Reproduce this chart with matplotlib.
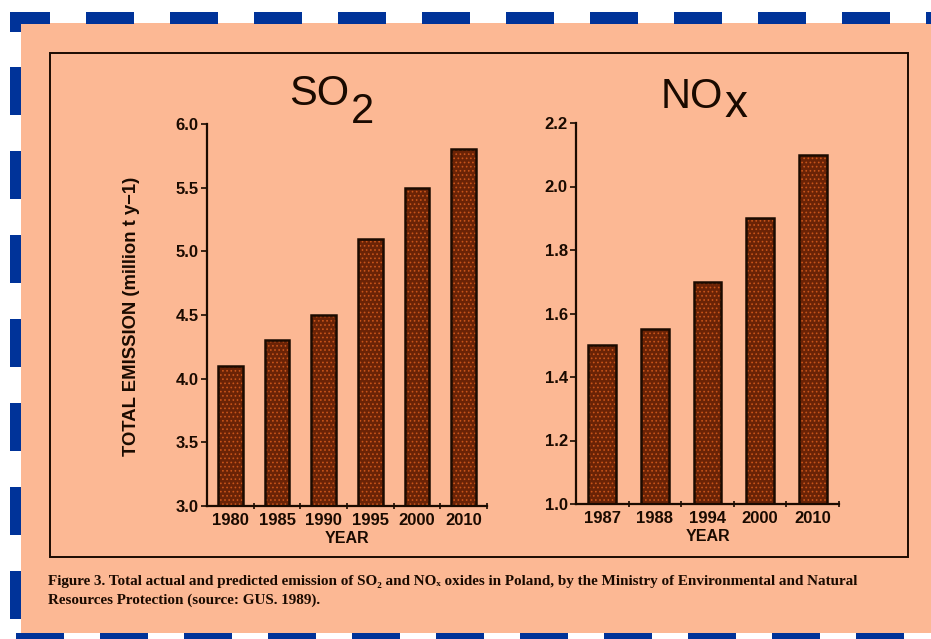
import matplotlib
matplotlib.use("Agg")
import matplotlib.pyplot as plt
from matplotlib.patches import Rectangle
import numpy as np

# ---- data ----
so2_years = ["1980", "1985", "1990", "1995", "2000", "2010"]
so2_values = [4.1, 4.3, 4.5, 5.1, 5.5, 5.8]
so2_yticks = [3.0, 3.5, 4.0, 4.5, 5.0, 5.5, 6.0]

nox_years = ["1987", "1988", "1994", "2000", "2010"]
nox_values = [1.5, 1.55, 1.7, 1.9, 2.1]
nox_yticks = [1.0, 1.2, 1.4, 1.6, 1.8, 2.0, 2.2]

ylabel_text = "TOTAL EMISSION (million t y\u22121)"
xlabel_text = "YEAR"
caption_line1 = ("Figure 3. Total actual and predicted emission of SO\u2082 and NO\u2093 oxides in Poland, "
                 "by the Ministry of Environmental and Natural")
caption_line2 = "Resources Protection (source: GUS. 1989)."

# ---- style ----
W, H = 931, 639
SALMON = "#fcb894"
BLUE = "#003399"
INK = "#1a0a00"
BAR = "#6a2306"
SPECK = "#c8541a"

fig = plt.figure(figsize=(W / 100, H / 100), dpi=100)
fig.patch.set_facecolor("white")

def fx(x):
    return x / W

def fy(y):
    return 1 - y / H

def frect(x0, y0, x1, y1, **kw):
    fig.patches.append(Rectangle((fx(x0), fy(y1)), fx(x1) - fx(x0), fy(y0) - fy(y1),
                                 transform=fig.transFigure, figure=fig, **kw))

# salmon paper
frect(21, 23, 931, 633, facecolor=SALMON, edgecolor="none", zorder=-3)
# blue dashed border
bkw = dict(facecolor=BLUE, edgecolor="none", zorder=-2)
frect(10, 12, 50, 24, **bkw)
for x in range(86, 931, 84):
    frect(x, 12, min(x + 48, 931), 24, **bkw)
frect(10, 12, 21, 32, **bkw)
for y in range(67, 630, 84):
    frect(10, y, 21, y + 48, **bkw)
for x in range(16, 931, 84):
    frect(x, 633, min(x + 48, 931), 639, **bkw)
# inner black frame
frect(50, 53, 908, 557, facecolor="none", edgecolor=INK, linewidth=1.4, zorder=-1)

plt.rcParams["hatch.linewidth"] = 0.7

def panel(rect, cats, vals, yticks, ylim):
    ax = fig.add_axes(rect)
    ax.set_zorder(1)
    ax.set_facecolor("none")
    x = np.arange(len(cats))
    ax.bar(x, vals, width=0.53, color=BAR, edgecolor=SPECK, hatch="....",
           linewidth=0, zorder=2)
    ax.bar(x, vals, width=0.53, color="none", edgecolor=INK, linewidth=1.8, zorder=3)
    ax.set_xlim(-0.5, len(cats) - 0.5)
    ax.set_ylim(*ylim)
    for s in ["top", "right"]:
        ax.spines[s].set_visible(False)
    for s in ["left", "bottom"]:
        ax.spines[s].set_linewidth(1.6)
        ax.spines[s].set_color(INK)
    ax.set_yticks(yticks)
    ax.set_yticklabels([f"{t:.1f}" for t in yticks])
    ax.set_xticks(x)
    ax.set_xticklabels(cats)
    ax.set_xticks(np.arange(len(cats)) + 0.5, minor=True)
    ax.tick_params(axis="x", which="major", length=0, pad=5)
    ax.tick_params(axis="x", which="minor", length=4, width=1.2, direction="inout", color=INK)
    ax.tick_params(axis="y", which="major", length=4, width=1.2, direction="out", pad=2, color=INK)
    for lab in ax.get_xticklabels() + ax.get_yticklabels():
        lab.set_fontfamily("Liberation Sans")
        lab.set_fontweight("bold")
        lab.set_fontsize(12)
        lab.set_color(INK)
    ax.set_xlabel(xlabel_text, fontsize=11.5, fontweight="bold", family="Liberation Sans",
                  color=INK, labelpad=2)
    return ax

ax1 = panel([fx(207), fy(506), fx(487) - fx(207), fy(124) - fy(506)],
            so2_years, so2_values, so2_yticks, (3.0, 6.0))
ax2 = panel([fx(576), fy(504), fx(839) - fx(576), fy(123) - fy(504)],
            nox_years, nox_values, nox_yticks, (1.0, 2.2))

fig.text(fx(131), fy(316), ylabel_text, rotation=90, ha="center", va="center",
         fontsize=13.3, fontweight="bold", family="Liberation Sans", color=INK)

# titles
tkw = dict(family="Liberation Sans", color=INK, va="baseline", ha="left")
fig.text(fx(289), fy(105), "SO", fontsize=30, **tkw)
fig.text(fx(351), fy(123), "2", fontsize=30, **tkw)
fig.text(fx(661), fy(108), "NO", fontsize=30, **tkw)
fig.text(fx(724), fy(117), "x", fontsize=33, **tkw)

# caption
ckw = dict(family=["Liberation Serif", "DejaVu Serif"], color=INK, va="baseline", ha="left",
           fontsize=10.9, fontweight="bold")
fig.text(fx(48), fy(585), caption_line1, **ckw)
fig.text(fx(48), fy(604), caption_line2, **ckw)

fig.savefig("out.png", dpi=100, facecolor=fig.get_facecolor())
